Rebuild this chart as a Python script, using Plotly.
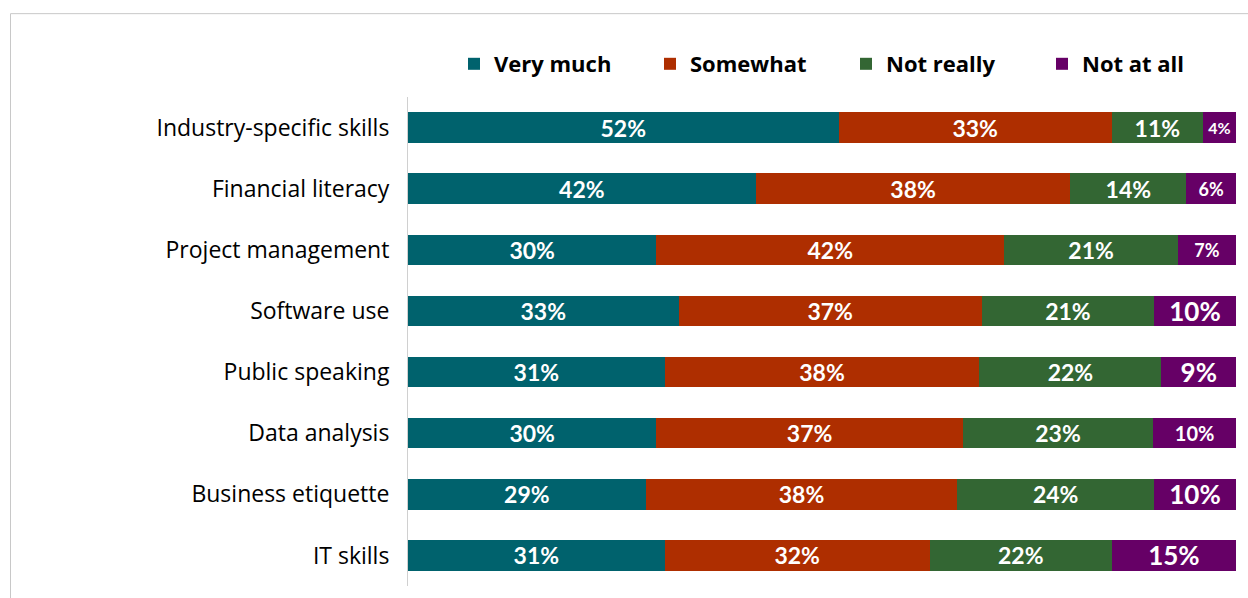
import plotly.graph_objects as go

categories = ["Industry-specific skills", "Financial literacy", "Project management",
              "Software use", "Public speaking", "Data analysis", "Business etiquette", "IT skills"]
very_much = [52, 42, 30, 33, 31, 30, 29, 31]
somewhat = [33, 38, 42, 37, 38, 37, 38, 32]
not_really = [11, 14, 21, 21, 22, 23, 24, 22]
not_at_all = [4, 6, 7, 10, 9, 10, 10, 15]

series = [
    ("Very much", very_much, "#00626D", [23] * 8),
    ("Somewhat", somewhat, "#AE2E00", [23] * 8),
    ("Not really", not_really, "#336633", [23] * 8),
    ("Not at all", not_at_all, "#660066", [16, 18, 18, 26, 26, 20, 26, 26]),
]

FONT = "Open Sans"
fig = go.Figure()
for name, vals, color, sizes in series:
    fig.add_trace(go.Bar(
        name=name, y=categories, x=vals, orientation="h",
        marker=dict(color=color, line=dict(width=0)),
        text=[f"{v}%" for v in vals],
        textposition="inside", insidetextanchor="middle",
        constraintext="none",
        textfont=dict(family="Lato", size=sizes, color="white", weight="bold"),
        hoverinfo="skip",
    ))

L, R, T, B = 408, 12, 96, 12
W, H = 1248, 598
pw, ph = W - L - R, H - T - B
fig.update_layout(
    width=W, height=H, barmode="stack", barnorm="percent", bargap=0.5,
    margin=dict(l=L, r=R, t=T, b=B),
    paper_bgcolor="white", plot_bgcolor="white",
    font=dict(family=FONT, size=20, color="black"),
    showlegend=True,
    legend=dict(orientation="h", xref="container", yref="container",
                x=454 / W, xanchor="left", y=1 - 64 / H, yanchor="middle",
                font=dict(family=FONT, size=22, weight="bold", color="black"),
                entrywidth=151, entrywidthmode="pixels",
                traceorder="normal", itemclick=False),
    xaxis=dict(range=[0, 100], visible=False, fixedrange=True),
    yaxis=dict(autorange="reversed", showline=True, linecolor="#d0d0d0", linewidth=1,
               ticks="", ticklabelstandoff=13, tickfont=dict(family=FONT, size=23, color="black"),
               showgrid=False, zeroline=False),
    shapes=[dict(type="rect", xref="paper", yref="paper",
                 x0=(10.5 - L) / pw, x1=(W + 20 - L) / pw,
                 y0=-(B + 20) / ph, y1=(H - 12.5 - B) / ph,
                 line=dict(color="#c8c8c8", width=1), fillcolor="rgba(0,0,0,0)", layer="below")],
)
fig.write_html("out.html")
